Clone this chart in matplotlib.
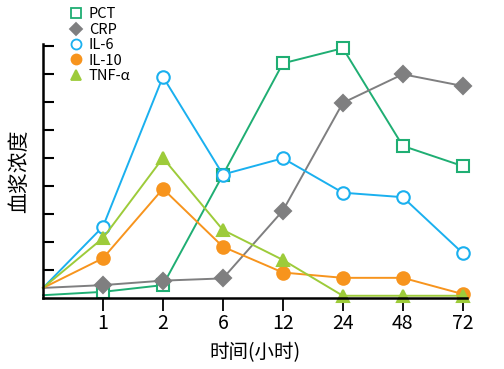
import numpy as np
import matplotlib
matplotlib.use('Agg')
from matplotlib import pyplot as plt

plt.rcParams['font.family'] = ['Noto Sans CJK SC', 'DejaVu Sans']

# x 축 범주 (0 위치는 시작점, 라벨 없음)
xlabels = ['1', '2', '6', '12', '24', '48', '72']

pct = [0.1, 0.22, 0.46, 4.4, 8.38, 8.92, 5.43, 4.71]
crp = [0.36, 0.46, 0.62, 0.7, 3.12, 6.97, 7.99, 7.57]
il6 = [0.36, 2.55, 7.9, 4.41, 4.99, 3.76, 3.6, 1.6]
il10 = [0.36, 1.42, 3.9, 1.83, 0.91, 0.72, 0.72, 0.14]
tnf = [0.36, 2.14, 5.0, 2.43, 1.36, 0.08, 0.08, 0.08]

x = np.arange(len(pct))

fig = plt.figure(figsize=(5.04, 3.69), dpi=100)
ax = fig.add_axes([43/504, 1-298/369, (467-43)/504, (298-44)/369])

series = [
    ('PCT', pct, '#1fae73', 's', 'white', 8.5),
    ('CRP', crp, '#7f7f80', 'D', '#7f7f80', 8),
    ('IL-6', il6, '#1ab0ef', 'o', 'white', 9),
    ('IL-10', il10, '#f7941d', 'o', '#f7941d', 9),
    ('TNF-α', tnf, '#9dcb3a', '^', '#9dcb3a', 9),
]

handles = []
for name, vals, c, m, fc, ms in series:
    ax.plot(x, vals, color=c, lw=1.4, marker=m, ms=ms, mfc=fc, mec=c,
            mew=1.5, markevery=list(range(1, len(vals))), clip_on=False)
    h, = ax.plot([], [], ls='none', marker=m, color=c, mfc=fc, mec=c,
                 mew=1.3, ms=ms * 0.8, label=name)
    handles.append(h)

ax.set_xlim(0, 7.07)
ax.set_ylim(0, 9.07)
ax.set_xticks(x[1:])
ax.set_xticklabels(xlabels, fontsize=14)
ax.set_yticks(np.arange(1, 10))
ax.set_yticklabels([])
ax.tick_params(axis='x', direction='out', length=9, width=1.3, pad=2)
ax.tick_params(axis='y', direction='in', length=8, width=1.5)
for s in ['top', 'right']:
    ax.spines[s].set_visible(False)
for s in ['left', 'bottom']:
    ax.spines[s].set_linewidth(1.8)

ax.set_xlabel('时间(小时)', fontsize=14, labelpad=6)
ax.set_ylabel('血浆浓度', fontsize=15, labelpad=6)

fig.legend(handles=handles, loc='upper left', bbox_to_anchor=(58/504, 1+3/369),
           frameon=False, fontsize=10.5, handlelength=1.0, handletextpad=0.4,
           labelspacing=0.1, borderpad=0.2)

plt.savefig('out.png', dpi=100)
